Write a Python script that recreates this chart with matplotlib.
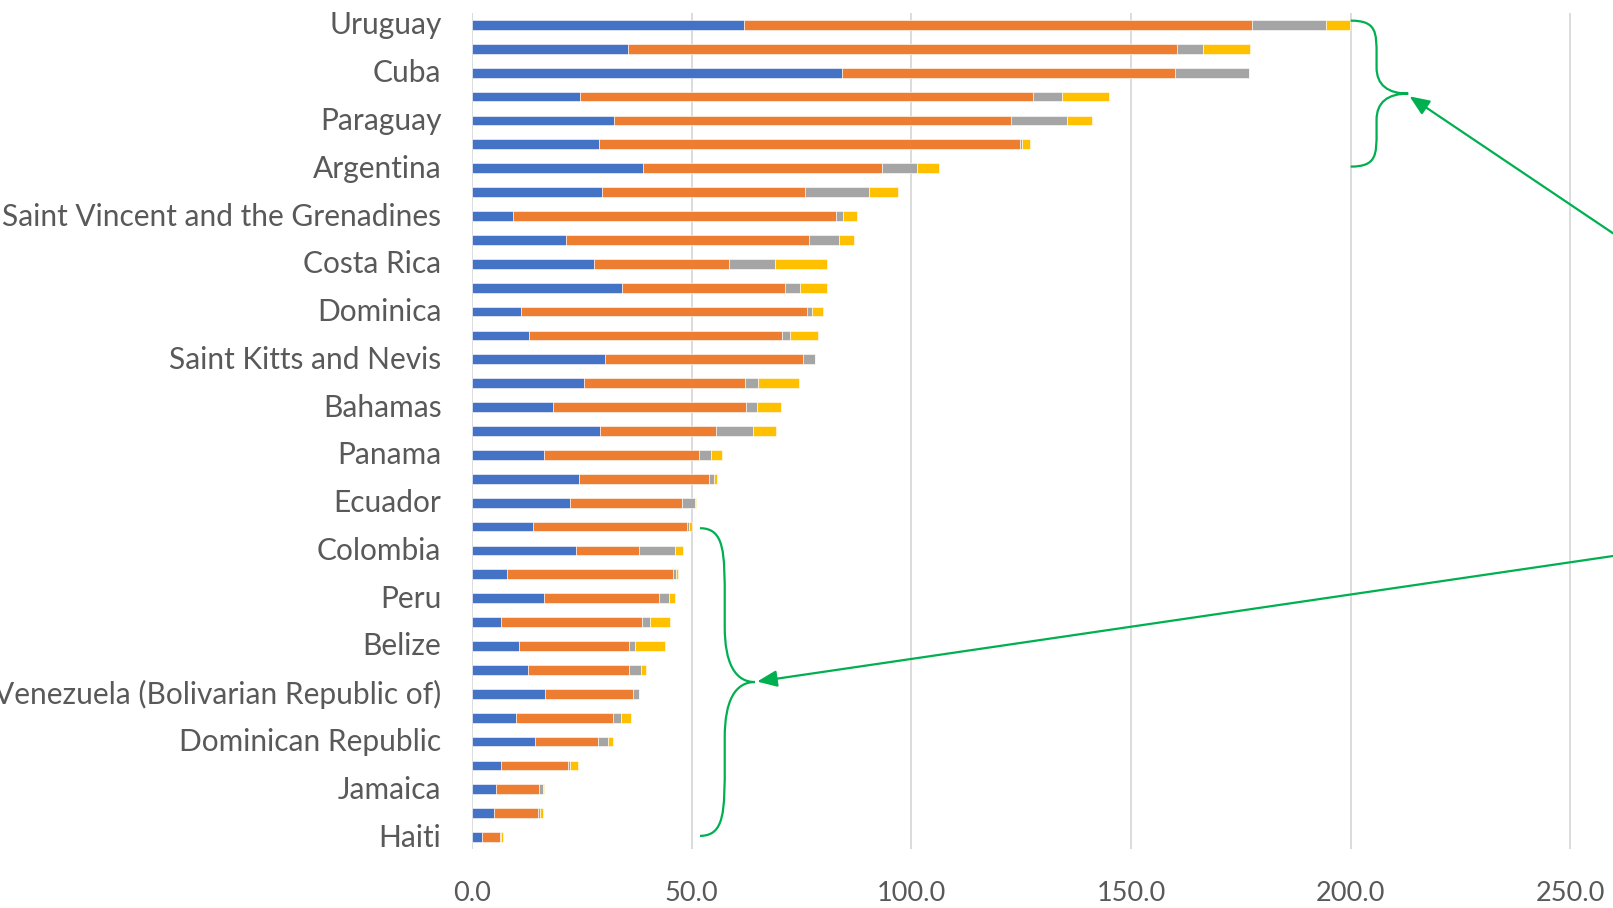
import matplotlib
matplotlib.use("Agg")
import matplotlib.pyplot as plt
from matplotlib.path import Path
from matplotlib.patches import PathPatch
from matplotlib.transforms import ScaledTranslation
import numpy as np

plt.rcParams["font.family"] = ["Lato", "DejaVu Sans"]

# Countries, top to bottom
countries = [
    "Uruguay", "Chile", "Cuba", "Brazil", "Paraguay", "El Salvador",
    "Argentina", "Mexico", "Saint Vincent and the Grenadines",
    "Antigua and Barbuda", "Costa Rica", "Barbados", "Dominica",
    "Trinidad and Tobago", "Saint Kitts and Nevis", "Grenada", "Bahamas",
    "Honduras", "Panama", "Guyana", "Ecuador", "Nicaragua", "Colombia",
    "Bolivia (Plurinational State of)", "Peru", "Suriname", "Belize",
    "Saint Lucia", "Venezuela (Bolivarian Republic of)", "Guatemala",
    "Dominican Republic", "Curaçao", "Jamaica", "Montserrat", "Haiti",
]

# Doses per 100 people, stacked
first_dose = [61.9, 35.6, 84.2, 24.6, 32.4, 28.9, 38.9, 29.7, 9.3, 21.4,
              27.7, 34.1, 11.1, 13.0, 30.3, 25.5, 18.5, 29.2, 16.4, 24.4,
              22.4, 13.9, 23.7, 7.9, 16.5, 6.6, 10.8, 12.8, 16.7, 10.1,
              14.3, 6.6, 5.4, 4.9, 2.3]
second_dose = [115.7, 124.9, 75.8, 103.1, 90.3, 95.8, 54.5, 46.1, 73.5, 55.3,
               30.7, 37.1, 65.1, 57.5, 45.1, 36.6, 43.9, 26.3, 35.3, 29.6,
               25.5, 35.0, 14.4, 37.9, 26.1, 32.2, 25.0, 23.0, 19.9, 22.0,
               14.4, 15.3, 9.8, 10.2, 4.1]
third_dose = [16.8, 5.9, 16.8, 6.6, 12.7, 0.4, 7.9, 14.6, 1.6, 6.8,
              10.6, 3.4, 1.2, 1.9, 2.7, 3.0, 2.5, 8.5, 2.8, 1.1,
              2.9, 0.6, 8.2, 0.6, 2.2, 1.7, 1.4, 2.7, 1.5, 1.9,
              2.3, 0.5, 1.0, 0.4, 0.3]
fourth_dose = [5.5, 10.7, 0.0, 10.7, 5.7, 1.9, 4.9, 6.5, 3.3, 3.4,
               11.7, 6.1, 2.5, 6.3, 0.0, 9.3, 5.4, 5.3, 2.3, 0.6,
               0.3, 0.6, 1.7, 0.5, 1.4, 4.6, 6.7, 1.1, 0.0, 2.2,
               1.2, 1.8, 0.1, 0.6, 0.3]

series = [first_dose, second_dose, third_dose, fourth_dose]
colors = ["#4472C4", "#ED7D31", "#A5A5A5", "#FFC000"]

x_ticks = [0, 50, 100, 150, 200, 250, 300]

W, H, DPI = 1613, 908, 100
fig = plt.figure(figsize=(W / DPI, H / DPI), dpi=DPI)
ax = fig.add_axes([472 / W, 59 / H, 1318 / W, 836 / H])

y = np.arange(len(countries))
left = np.zeros(len(countries))
for vals, col in zip(series, colors):
    vals = np.asarray(vals)
    ax.barh(y, vals, left=left, height=0.41, color=col,
            edgecolor="white", linewidth=0.4, zorder=3)
    left += vals

ax.set_xlim(0, 300)
ax.set_ylim(len(countries) - 0.5, -0.5)
ax.set_xticks(x_ticks)
ax.set_xticklabels([f"{t:.1f}" for t in x_ticks])
ax.set_yticks(y)
ax.set_yticklabels([c if i % 2 == 0 else "" for i, c in enumerate(countries)])
ax.tick_params(axis="y", length=0, pad=22, labelsize=21.5, labelcolor="#595959")
ax.tick_params(axis="x", length=0, pad=23, labelsize=19.5, labelcolor="#595959")
lift = ScaledTranslation(0, 2 / DPI, fig.dpi_scale_trans)
for lbl in ax.get_yticklabels():
    lbl.set_transform(lbl.get_transform() + lift)
for s in ax.spines.values():
    s.set_visible(False)
ax.grid(axis="x", color="#D9D9D9", linewidth=1.3, zorder=0)
ax.set_axisbelow(True)

GREEN = "#00B050"


def brace(ax, x0, x1, y0, y1):
    """Curly brace opening left, from (x0, y0) to (x0, y1) with tip at x1."""
    h = y1 - y0
    xm = x0 + 0.45 * (x1 - x0)
    ym = (y0 + y1) / 2
    a, b = 0.24 * h, 0.32 * h
    verts = [
        (x0, y0),
        (xm, y0), (xm, y0 + 0.08 * h), (xm, y0 + a),
        (xm, y0 + b),
        (xm, ym - 0.06 * h), (xm + 0.35 * (x1 - xm), ym), (x1, ym),
        (xm + 0.35 * (x1 - xm), ym), (xm, ym + 0.06 * h), (xm, y1 - b),
        (xm, y1 - a),
        (xm, y1 - 0.08 * h), (xm, y1), (x0, y1),
    ]
    codes = [Path.MOVETO,
             Path.CURVE4, Path.CURVE4, Path.CURVE4,
             Path.LINETO,
             Path.CURVE4, Path.CURVE4, Path.CURVE4,
             Path.CURVE4, Path.CURVE4, Path.CURVE4,
             Path.LINETO,
             Path.CURVE4, Path.CURVE4, Path.CURVE4]
    ax.add_patch(PathPatch(Path(verts, codes), facecolor="none",
                           edgecolor=GREEN, linewidth=1.6, zorder=5,
                           clip_on=False))


brace(ax, 200.0, 213.1, -0.18, 5.93)
brace(ax, 51.9, 64.4, 21.07, 33.95)

arrow_kw = dict(arrowstyle="-|>,head_length=0.6,head_width=0.25",
                color=GREEN, lw=1.6, shrinkA=0, shrinkB=0,
                mutation_scale=20)
ax.annotate("", xy=(213.4, 2.99), xytext=(279.5, 11.17),
            arrowprops=arrow_kw, annotation_clip=False)
ax.annotate("", xy=(64.9, 27.49), xytext=(279.5, 21.7),
            arrowprops=arrow_kw, annotation_clip=False)

fig.savefig("out.png", dpi=DPI)
